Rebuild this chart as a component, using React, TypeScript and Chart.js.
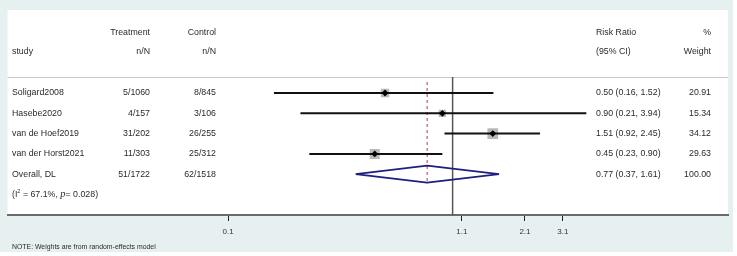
import React, { useEffect, useRef } from "react";
import { Chart, registerables } from "chart.js";

Chart.register(...registerables);

// ---- data ----
const studies = ["Soligard2008", "Hasebe2020", "van de Hoef2019", "van der Horst2021"];
const treatmentNN = ["5/1060", "4/157", "31/202", "11/303"];
const controlNN = ["8/845", "3/106", "26/255", "25/312"];
const riskRatio = [0.5, 0.9, 1.51, 0.45];
const ciLow = [0.16, 0.21, 0.92, 0.23];
const ciHigh = [1.52, 3.94, 2.45, 0.9];
const weights = [20.91, 15.34, 34.12, 29.63];

const overallLabel = "Overall, DL";
const overallTreatment = "51/1722";
const overallControl = "62/1518";
const overallRR = 0.77;
const overallLow = 0.37;
const overallHigh = 1.61;
const overallWeight = 100.0;

const heterogeneityI2 = "67.1%";
const heterogeneityP = "0.028";

const xTicks = [0.1, 1.1, 2.1, 3.1];

const FONT = '"Liberation Sans", Arial, sans-serif';
const W = 737;
const H = 256;

// scale geometry (log10 units per pixel -> chosen so 1.0 sits on the null line)
const PX_PER_DECADE = 225;
const NULL_PX = 452;
const AREA_LEFT = 6;
const AREA_RIGHT = 728;
const AREA_TOP = 77;
const AREA_BOTTOM = 215;
const X_MIN = Math.pow(10, -(NULL_PX - AREA_LEFT) / PX_PER_DECADE);
const X_MAX = Math.pow(10, (AREA_RIGHT - NULL_PX) / PX_PER_DECADE);
const ROW0_PX = 93;
const ROW_STEP = 20.3;
const Y_MIN = (AREA_TOP - ROW0_PX) / ROW_STEP;
const Y_MAX = (AREA_BOTTOM - ROW0_PX) / ROW_STEP;

export default function App() {
  const ref = useRef<HTMLCanvasElement | null>(null);

  useEffect(() => {
    document.body.style.margin = "0";
    const canvas = ref.current;
    if (!canvas) return;

    const overallRow = studies.length;
    const hetRow = studies.length + 1;
    const diamondHalf = 8.5 / ROW_STEP;

    const ciDatasets = studies.map((s, i) => ({
      type: "line" as const,
      label: "ci-" + s,
      data: [
        { x: ciLow[i], y: i },
        { x: ciHigh[i], y: i },
      ],
      borderColor: "#111111",
      borderWidth: 2,
      pointRadius: 0,
      showLine: true,
      order: 1,
    }));

    const bgPlugin = {
      id: "bg",
      beforeDraw(chart: any) {
        const ctx = chart.ctx;
        const a = chart.chartArea;
        ctx.save();
        ctx.fillStyle = "#ffffff";
        ctx.fillRect(0, 0, W, H);
        ctx.fillStyle = "#e7f0f0";
        ctx.fillRect(0, 0, 733, 252);
        ctx.fillStyle = "#ffffff";
        ctx.fillRect(a.left, 10, a.right - a.left, a.bottom - 10);
        // header separator
        ctx.strokeStyle = "#c9c9c9";
        ctx.lineWidth = 1;
        ctx.beginPath();
        ctx.moveTo(a.left, a.top + 0.5);
        ctx.lineTo(a.right, a.top + 0.5);
        ctx.stroke();
        ctx.restore();
      },
    };

    const textPlugin = {
      id: "texts",
      afterDraw(chart: any) {
        const ctx = chart.ctx;
        const ys = chart.scales.y;
        ctx.save();
        ctx.fillStyle = "#2a2a2a";
        ctx.textBaseline = "middle";
        ctx.font = `8.8px ${FONT}`;
        const put = (t: string, x: number, y: number, align: CanvasTextAlign) => {
          ctx.textAlign = align;
          ctx.fillText(t, x, y);
        };
        // headers
        put("Treatment", 150, 33, "right");
        put("Control", 216, 33, "right");
        put("Risk Ratio", 596, 33, "left");
        put("%", 711, 33, "right");
        put("study", 12, 52, "left");
        put("n/N", 150, 52, "right");
        put("n/N", 216, 52, "right");
        put("(95% CI)", 596, 52, "left");
        put("Weight", 711, 52, "right");

        studies.forEach((s, i) => {
          const y = ys.getPixelForValue(i);
          put(s, 12, y, "left");
          put(treatmentNN[i], 150, y, "right");
          put(controlNN[i], 216, y, "right");
          put(
            `${riskRatio[i].toFixed(2)} (${ciLow[i].toFixed(2)}, ${ciHigh[i].toFixed(2)})`,
            596,
            y,
            "left"
          );
          put(weights[i].toFixed(2), 711, y, "right");
        });
        const oy = ys.getPixelForValue(overallRow);
        put(overallLabel, 12, oy, "left");
        put(overallTreatment, 150, oy, "right");
        put(overallControl, 216, oy, "right");
        put(
          `${overallRR.toFixed(2)} (${overallLow.toFixed(2)}, ${overallHigh.toFixed(2)})`,
          596,
          oy,
          "left"
        );
        put(overallWeight.toFixed(2), 711, oy, "right");

        // heterogeneity line
        const hy = ys.getPixelForValue(hetRow);
        ctx.textAlign = "left";
        let x = 12;
        const seg = (t: string, font: string, dy = 0) => {
          ctx.font = font;
          ctx.fillText(t, x, hy + dy);
          x += ctx.measureText(t).width;
        };
        seg("(I", `8.8px ${FONT}`);
        seg("2", `5.5px ${FONT}`, -3.5);
        seg(` = ${heterogeneityI2}, `, `8.8px ${FONT}`);
        seg("p", `italic 10.5px "Liberation Serif", "Times New Roman", serif`);
        seg(`= ${heterogeneityP})`, `8.8px ${FONT}`);

        // note
        ctx.font = `6.9px ${FONT}`;
        put("NOTE: Weights are from random-effects model", 12, 247, "left");
        ctx.restore();
      },
    };

    const chart = new Chart(canvas, {
      type: "scatter",
      data: {
        datasets: [
          {
            label: "estimate",
            data: riskRatio.map((v, i) => ({ x: v, y: i })),
            pointStyle: "rectRot",
            pointRadius: 3.4,
            backgroundColor: "#000000",
            borderColor: "#000000",
            borderWidth: 0,
            order: 0,
          },
          ...ciDatasets,
          {
            label: "weight",
            data: riskRatio.map((v, i) => ({ x: v, y: i })),
            pointStyle: "rect",
            pointRadius: weights.map((w) => 1.3 * Math.sqrt(w)),
            backgroundColor: "#b9b9b9",
            borderWidth: 0,
            order: 2,
          },
          {
            type: "line" as const,
            label: "overall",
            data: [
              { x: overallLow, y: overallRow },
              { x: overallRR, y: overallRow - diamondHalf },
              { x: overallHigh, y: overallRow },
              { x: overallRR, y: overallRow + diamondHalf },
              { x: overallLow, y: overallRow },
            ],
            borderColor: "#1e1e82",
            borderWidth: 1.8,
            borderJoinStyle: "bevel",
            pointRadius: 0,
            fill: false,
            tension: 0,
            order: 3,
          },
          {
            type: "line" as const,
            label: "overall-line",
            data: [
              { x: overallRR, y: (82 - ROW0_PX) / ROW_STEP },
              { x: overallRR, y: overallRow + diamondHalf },
            ],
            borderColor: "#a0405a",
            borderWidth: 1,
            borderDash: [3, 3],
            pointRadius: 0,
            order: 4,
          },
          {
            type: "line" as const,
            label: "null",
            data: [
              { x: 1, y: Y_MIN },
              { x: 1, y: Y_MAX },
            ],
            borderColor: "#555555",
            borderWidth: 1.5,
            pointRadius: 0,
            order: 5,
          },
        ] as any,
      },
      options: {
        responsive: false,
        animation: false,
        events: [],
        layout: {
          padding: { left: AREA_LEFT, right: W - AREA_RIGHT, top: AREA_TOP, bottom: 0 },
        },
        plugins: {
          legend: { display: false },
          tooltip: { enabled: false },
        },
        scales: {
          x: {
            type: "logarithmic",
            min: X_MIN,
            max: X_MAX,
            afterBuildTicks: (scale: any) => {
              scale.ticks = xTicks.map((v) => ({ value: v }));
            },
            afterFit: (scale: any) => {
              scale.height = H - AREA_BOTTOM;
            },
            border: { display: true, color: "#6a6a6a", width: 2 },
            grid: {
              display: true,
              drawOnChartArea: false,
              drawTicks: true,
              tickLength: 6,
              color: "#222222",
              lineWidth: 1,
            },
            ticks: {
              autoSkip: false,
              maxRotation: 0,
              padding: 6,
              color: "#333333",
              font: { family: FONT, size: 8 },
              callback: (v: any) => String(Number(v)),
            },
          },
          y: {
            type: "linear",
            reverse: true,
            min: Y_MIN,
            max: Y_MAX,
            display: false,
          },
        },
      } as any,
      plugins: [bgPlugin, textPlugin],
    });

    return () => chart.destroy();
  }, []);

  return (
    <div style={{ position: "absolute", left: 0, top: 0, width: W, height: H }}>
      <canvas ref={ref} width={W} height={H} style={{ width: W, height: H, display: "block" }} />
    </div>
  );
}
